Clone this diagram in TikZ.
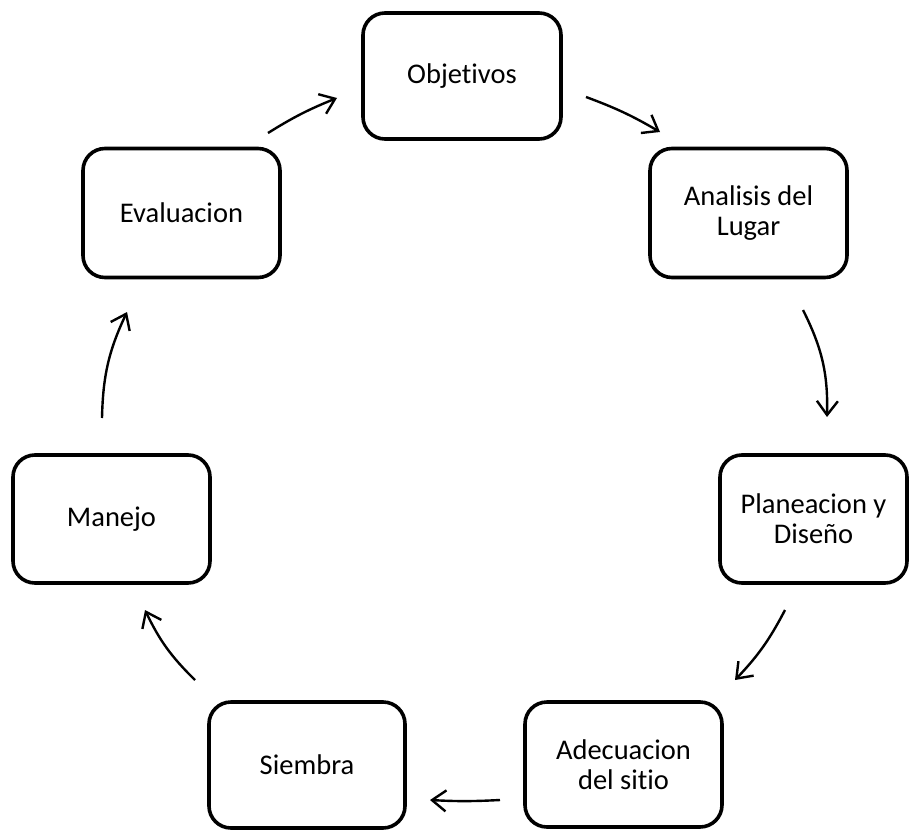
\documentclass[tikz,border=0pt]{standalone}
\usepackage{fontspec}
\setmainfont[Ligatures=NoCommon]{Carlito}
\usetikzlibrary{arrows.meta}
\begin{document}
\begin{tikzpicture}[x=1pt,y=1pt,
  stepbox/.style={draw=black, line width=3.6pt, rounded corners=22pt, inner sep=0pt,
    align=center, font=\fontsize{28.5}{30}\selectfont},
  flow/.style={line width=2.4pt, -{Straight Barb[length=14pt,width=21pt,line width=2.4pt]}}]
\useasboundingbox (0,0) rectangle (909,-829);
\fill[white] (0,0) rectangle (909,-829);
\node[stepbox, minimum width=198pt, minimum height=126pt] (obj) at (462,-76) {Objetivos};
\node[stepbox, minimum width=197pt, minimum height=129pt] (ana) at (748.5,-213) {Analisis del\\Lugar};
\node[stepbox, minimum width=187pt, minimum height=128pt] (pla) at (813.5,-519) {Planeacion y\\Diseño};
\node[stepbox, minimum width=197pt, minimum height=125pt] (ade) at (623.5,-764.5) {Adecuacion\\del sitio};
\node[stepbox, minimum width=196pt, minimum height=126pt] (sie) at (307,-765) {Siembra};
\node[stepbox, minimum width=197pt, minimum height=128pt] (man) at (111.5,-519) {Manejo};
\node[stepbox, minimum width=197pt, minimum height=129pt] (eva) at (181.5,-213) {Evaluacion};
% arrow end points
\coordinate (a1s) at (586,-97);  \coordinate (a1e) at (660,-132);
\coordinate (a2s) at (803,-310); \coordinate (a2e) at (827,-417);
\coordinate (a3s) at (785,-610); \coordinate (a3e) at (735,-680);
\coordinate (a4s) at (500,-800); \coordinate (a4e) at (430,-800);
\coordinate (a5s) at (195,-680); \coordinate (a5e) at (145,-610);
\coordinate (a6s) at (102,-418); \coordinate (a6e) at (127,-312);
\coordinate (a7s) at (268,-133); \coordinate (a7e) at (337,-98);
\draw[flow] (a1s) to[bend left=5] (a1e);
\draw[flow] (a2s) to[bend left=14] (a2e);
\draw[flow] (a3s) to[bend left=8] (a3e);
\draw[flow] (a4s) to[bend left=3] (a4e);
\draw[flow] (a5s) to[bend left=10] (a5e);
\draw[flow] (a6s) to[bend left=12] (a6e);
\draw[flow] (a7s) to[bend left=5] (a7e);
\end{tikzpicture}
\end{document}
